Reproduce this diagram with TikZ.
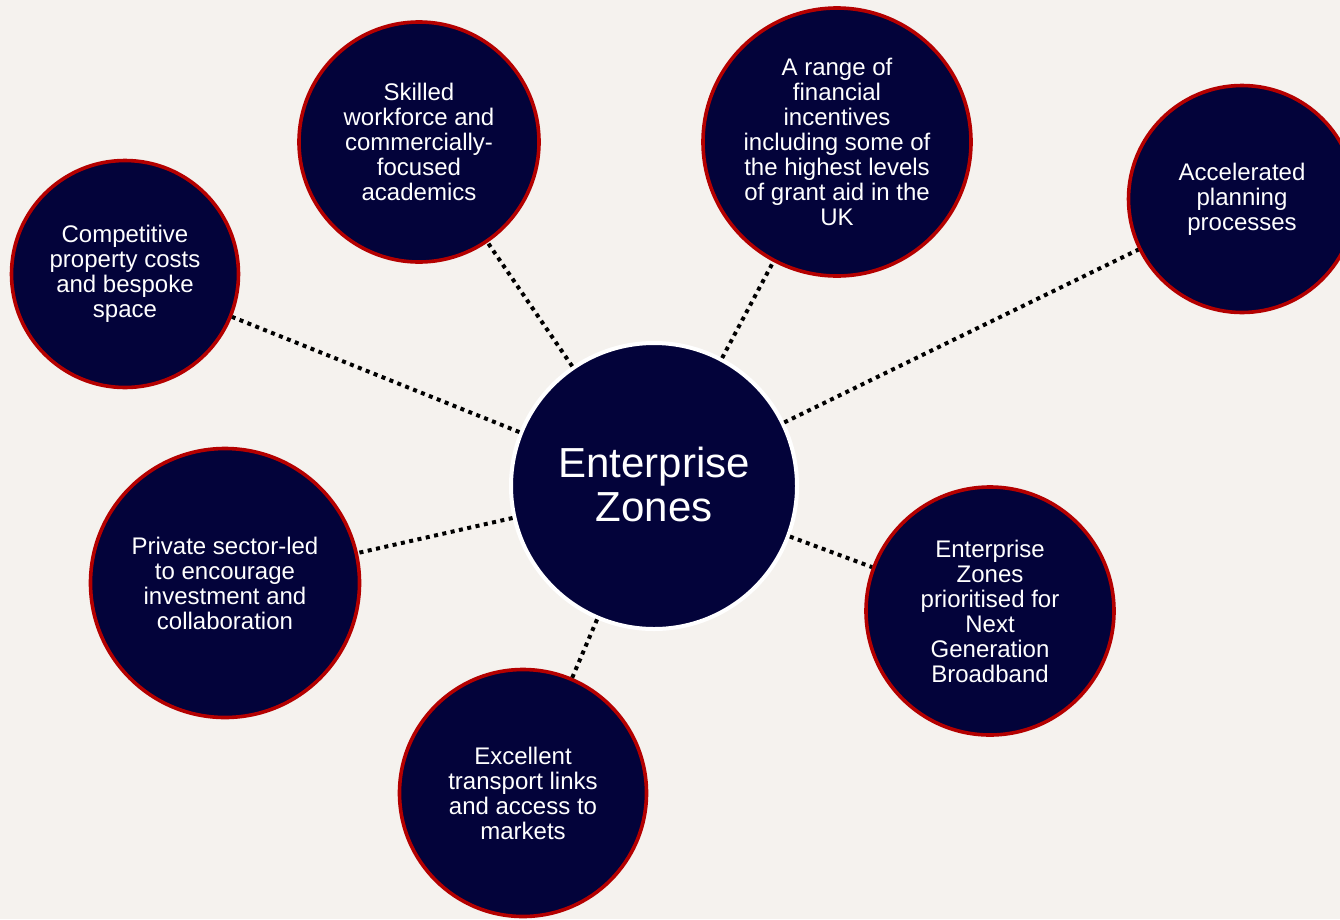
\documentclass[tikz,border=0pt]{standalone}
\usepackage{fontspec}
\setmainfont{Liberation Sans}
\definecolor{bgc}{RGB}{245,242,238}
\definecolor{navy}{RGB}{3,3,58}
\definecolor{rimred}{RGB}{180,0,0}
\begin{document}
\begin{tikzpicture}[x=1pt,y=-1pt,
  bubble/.style={circle,fill=navy,draw=rimred,line width=3.6pt,text=white,align=center,inner sep=0pt,
    font=\fontsize{24}{25}\selectfont},
  hub/.style={circle,fill=navy,draw=white,line width=4pt,text=white,align=center,inner sep=0pt,
    minimum size=286pt,font=\fontsize{42}{44}\selectfont},
  link/.style={line width=4pt,dash pattern=on 4pt off 4.5pt}]
\fill[bgc] (0,0) rectangle (1340,919);
\useasboundingbox (0,0) rectangle (1340,919);
\begin{scope}
\clip (0,0) rectangle (1340,919);
\node[hub] (c) at (654,486) {};
\node[text=white,align=center,font=\fontsize{42}{44}\selectfont] (ct) at (654,484) {Enterprise\\Zones};
\node[bubble,minimum size=227pt] (a) at (125,274) {Competitive\\property costs\\and bespoke\\space};
\node[bubble,minimum size=240pt] (b) at (419,142) {Skilled\\workforce and\\commercially-\\focused\\academics};
\node[bubble,minimum size=268pt] (d) at (837,142) {A range of\\financial\\incentives\\including some of\\the highest levels\\of grant aid in the\\UK};
\node[bubble,minimum size=227pt] (e) at (1242,199) {Accelerated\\planning\\processes};
\node[bubble,minimum size=248pt] (f) at (990,611) {Enterprise\\Zones\\prioritised for\\Next\\Generation\\Broadband};
\node[bubble,minimum size=247pt] (g) at (523,793) {Excellent\\transport links\\and access to\\markets};
\node[bubble,minimum size=269pt] (h) at (225,583) {Private sector-led\\to encourage\\investment and\\collaboration};
\foreach \n in {a,b,d,e,f,g,h} \draw[link] (c) -- (\n);
\end{scope}
\end{tikzpicture}
\end{document}
